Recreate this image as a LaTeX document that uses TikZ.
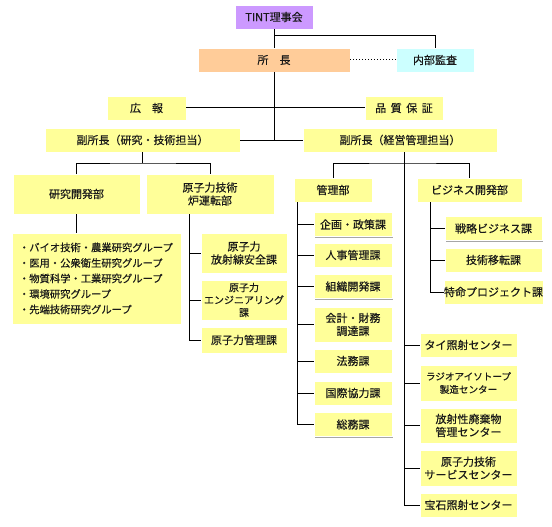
\documentclass[tikz,border=0pt]{standalone}
\usepackage{fontspec}
\setmainfont{Noto Sans CJK JP}[UprightFeatures={FakeBold=0.35}]
\usetikzlibrary{positioning,calc,shadows}
\definecolor{unityellow}{HTML}{FFFF99}
\definecolor{boardviolet}{HTML}{CC99FF}
\definecolor{headpeach}{HTML}{FFCC99}
\definecolor{auditcyan}{HTML}{CCFFFF}
\tikzset{
  unit/.style={draw=white,line width=0.8pt,fill=unityellow,
    drop shadow={shadow xshift=1pt,shadow yshift=-1pt,opacity=0.35,fill=black},
    inner sep=0pt,outer sep=0pt,align=center,text=black!90,
    font=\fontsize{11}{13}\selectfont,minimum height=24pt},
  link/.style={line width=1pt,black}
}
\begin{document}
\begin{tikzpicture}[x=1pt,y=-1pt,
  section/.style={unit,minimum width=78pt},
  office/.style={unit,minimum width=86pt,minimum height=40pt},
  team/.style={unit,minimum width=97pt},
  centre/.style={unit,minimum width=97pt}
]
  \useasboundingbox (0,0) rectangle (552,527);
  % top management
  \node[section,fill=boardviolet] (board) at (274,17) {TINT理事会};
  \node[unit,fill=headpeach,minimum width=152pt] (director) at (274,60) {所　長};
  \node[section,fill=auditcyan] (audit) at (435,60) {内部監査};
  \node[section,minimum width=79pt] (pr) at (146.5,108) {広　報};
  \node[section] (qa) at (404,108) {品\hspace{4.5pt}質\hspace{4.5pt}保\hspace{4.5pt}証};
  \node[unit,minimum width=195pt] (vpr) at (142.5,140) {副所長（研究・技術担当）};
  \node[unit,minimum width=194pt] (vpa) at (400,140) {副所長（経営管理担当）};
  % research and technology
  \node[unit,minimum width=127pt,minimum height=40pt] (rd) at (76.5,194) {研究開発部};
  \node[unit,minimum width=128pt,minimum height=40pt] (ops) at (210,194) {原子力技術\\炉運転部};
  \node[unit,text width=155pt,inner xsep=7pt,minimum height=91pt,align=left,
    font=\fontsize{10.3}{15.5}\selectfont] (groups) at (96.5,278.5)
    {・バイオ技術・農業研究グループ\\・医用・公衆衛生研究グループ\\・物質科学・工業研究グループ\\・環境研究グループ\\・先端技術研究グループ};
  \node[office] (radsafe) at (244,253) {原子力\\放射線安全課};
  \node[office,font=\fontsize{10}{12.5}\selectfont] (engineer) at (244,300) {原子力\\エンジニアリング\\課};
  \node[office,minimum height=26pt] (nucmgmt) at (244,340) {原子力管理課};
  % management
  \node[section] (admin) at (333,190) {管理部};
  \node[unit,minimum width=105pt] (biz) at (469.5,190) {ビジネス開発部};
  \node[section] (planning) at (353,224.5) {企画・政策課};
  \node[section] (hr) at (353,255) {人事管理課};
  \node[section] (orgdev) at (353,286.5) {組織開発課};
  \node[section,minimum height=35pt] (finance) at (353,324.5) {会計・財務\\調達課};
  \node[section] (legal) at (353,361) {法務課};
  \node[section] (intl) at (353,393) {国際協力課};
  \node[section] (general) at (353,424.5) {総務課};
  \node[team] (strategy) at (493.5,228.5) {戦略ビジネス課};
  \node[team] (transfer) at (493.5,260) {技術移転課};
  \node[team] (special) at (493.5,292) {特命プロジェクト課};
  \node[centre] (thai) at (468.5,345) {タイ照射センター};
  \node[centre,minimum height=36pt,font=\fontsize{9.6}{13}\selectfont] (ri) at (468.5,383) {ラジオアイソトープ\\製造センター};
  \node[centre,minimum height=35pt] (waste) at (468.5,425.5) {放射性廃棄物\\管理センター};
  \node[centre,minimum height=36pt] (service) at (468.5,468) {原子力技術\\サービスセンター};
  \node[centre] (gem) at (468.5,505) {宝石照射センター};
  % connectors
  \coordinate (auditjoin) at (274,36);
  \coordinate (resjoin) at (142.5,163);
  \coordinate (admjoin) at (404,163);
  \coordinate (opsbus) at (189,0);
  \coordinate (adminbus) at (297,0);
  \coordinate (bizbus) at (430,0);
  \coordinate (centrebus) at (404,0);
  \draw[link] (board) -- (director);
  \draw[link] (auditjoin) -| (audit);
  \draw[link,dotted] (director) -- (audit);
  \draw[link] (director) -- (director |- vpr.east);
  \draw[link] (pr) -- (qa);
  \draw[link] (vpr) -- (vpa);
  \draw[link] (vpr) -- (resjoin);
  \draw[link] (rd) |- (resjoin) -| (ops);
  \draw[link] (rd.south) -- (rd.south |- groups.north);
  \draw[link] (ops.south -| opsbus) |- (nucmgmt);
  \foreach \sub in {radsafe,engineer}
    \draw[link] (opsbus |- \sub.west) -- (\sub);
  \draw[link] (vpa.south -| centrebus) |- (gem);
  \draw[link] (admin) |- (admjoin) -| (biz);
  \draw[link] (admin.south -| adminbus) |- (general);
  \foreach \sub in {planning,hr,orgdev,finance,legal,intl}
    \draw[link] (adminbus |- \sub.west) -- (\sub);
  \draw[link] (biz.south -| bizbus) |- (special);
  \foreach \sub in {strategy,transfer}
    \draw[link] (bizbus |- \sub.west) -- (\sub);
  \foreach \sub in {thai,ri,waste,service}
    \draw[link] (centrebus |- \sub.west) -- (\sub);
\end{tikzpicture}
\end{document}
